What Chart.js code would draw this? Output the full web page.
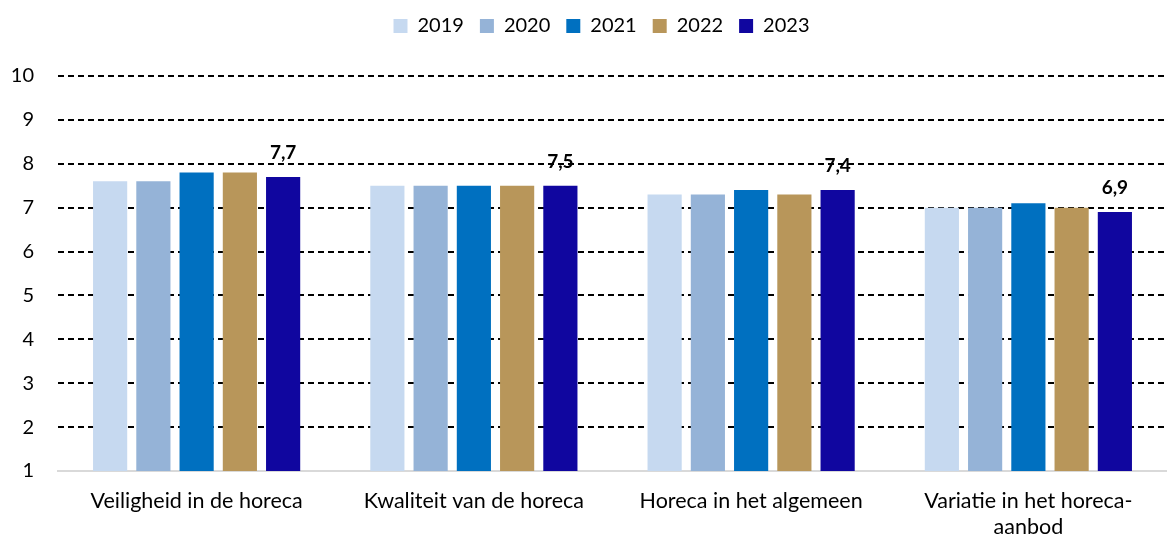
<!DOCTYPE html>
<html>
<head>
<meta charset="utf-8">
<script src="https://cdn.jsdelivr.net/npm/chart.js@4"></script>
<style>
  html, body { margin: 0; padding: 0; background: #fff; }
  #wrap { width: 1167px; height: 537px; }
</style>
</head>
<body>
<div id="wrap"><canvas id="myChart" width="1167" height="537"></canvas></div>
<script>
// categorie (asse x)
const categorie = [
  "Veiligheid in de horeca",
  "Kwaliteit van de horeca",
  "Horeca in het algemeen",
  ["Variatie in het horeca-", "aanbod"]
];

// anni e valori per anno
const anni = ["2019", "2020", "2021", "2022", "2023"];
const val2019 = [7.6, 7.5, 7.3, 7.0];
const val2020 = [7.6, 7.5, 7.3, 7.0];
const val2021 = [7.8, 7.5, 7.4, 7.1];
const val2022 = [7.8, 7.5, 7.3, 7.0];
const val2023 = [7.7, 7.5, 7.4, 6.9];

// tick asse y
const yTicks = [1, 2, 3, 4, 5, 6, 7, 8, 9, 10];

const colori = ["#C6D9F0", "#95B3D7", "#0070C0", "#B8965A", "#10069F"];
const serie = [val2019, val2020, val2021, val2022, val2023];

const font = "Lato, 'Open Sans', sans-serif";

// etichette solo sulla serie 2023
const etichette2023 = {
  id: "etichette2023",
  afterDatasetsDraw(chart) {
    const ctx = chart.ctx;
    const meta = chart.getDatasetMeta(4);
    ctx.save();
    ctx.font = "bold 19px " + font;
    ctx.fillStyle = "#000";
    ctx.textAlign = "center";
    ctx.textBaseline = "middle";
    meta.data.forEach((bar, i) => {
      const testo = val2023[i].toFixed(1).replace(".", ",");
      ctx.fillText(testo, bar.x, bar.y - 24);
    });
    ctx.restore();
  }
};

// spazio extra sotto la legenda e legenda un po' più a destra
const spazioLegenda = {
  id: "spazioLegenda",
  beforeInit(chart) {
    const fitOrig = chart.legend.fit;
    chart.legend.fit = function () {
      fitOrig.bind(chart.legend)();
      this.height += 30;
    };
  },
  afterLayout(chart) {
    chart.legend.left += 36;
  }
};

new Chart(document.getElementById("myChart"), {
  type: "bar",
  data: {
    labels: categorie,
    datasets: anni.map((anno, i) => ({
      label: anno,
      data: serie[i],
      backgroundColor: colori[i],
      borderWidth: 0,
      barPercentage: 0.79,
      categoryPercentage: 0.78
    }))
  },
  options: {
    responsive: false,
    animation: false,
    layout: { padding: { top: 0, left: 0, right: 0, bottom: 0 } },
    plugins: {
      tooltip: { enabled: false },
      legend: {
        position: "top",
        labels: {
          font: { family: font, size: 20 },
          color: "#000",
          boxWidth: 14,
          boxHeight: 14,
          padding: 16
        }
      }
    },
    scales: {
      x: {
        grid: { display: false, drawTicks: false },
        border: { color: "#D9D9D9", width: 2 },
        ticks: {
          font: { family: font, size: 21.5, lineHeight: 1.2 },
          color: "#000",
          padding: 17,
          maxRotation: 0,
          autoSkip: false
        },
        afterFit(scale) { scale.height = 66; }
      },
      y: {
        min: 1,
        max: 10,
        afterBuildTicks(scale) { scale.ticks = yTicks.map(v => ({ value: v })); },
        grid: {
          drawTicks: false,
          color: ctx => (ctx.tick && ctx.tick.value === 1 ? "rgba(0,0,0,0)" : "#000"),
          lineWidth: 2
        },
        border: { display: false, dash: [6, 4] },
        ticks: {
          font: { family: font, size: 20 },
          color: "#000",
          padding: 24
        },
        afterFit(scale) { scale.width = 58; }
      }
    }
  },
  plugins: [etichette2023, spazioLegenda]
});
</script>
</body>
</html>
